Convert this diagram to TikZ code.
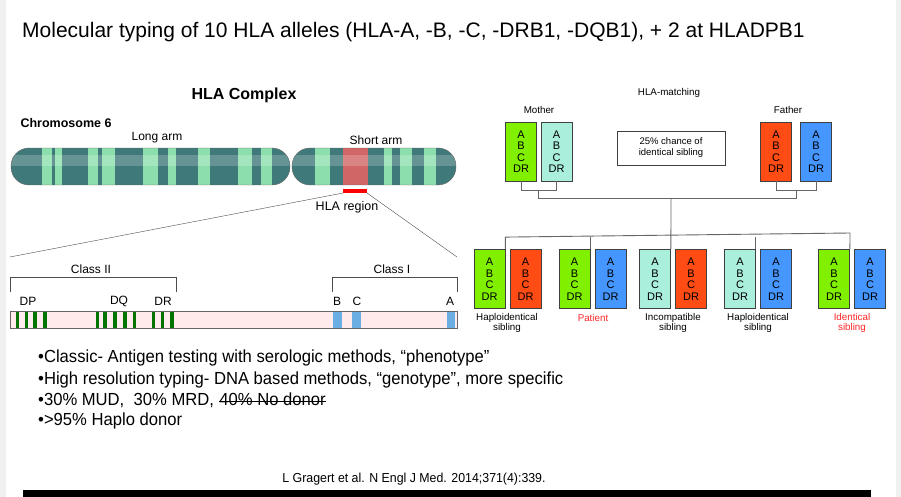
\documentclass[tikz,border=0pt]{standalone}
\usepackage{fontspec}
\setmainfont{Liberation Sans}
\newfontfamily\narrowfont{Liberation Sans}[FakeStretch=0.95]
\begin{document}
\begin{tikzpicture}[x=1pt,y=-1pt,
  lbl/.style={inner sep=0pt,font=\fontsize{12}{13}\selectfont},
  hbox/.style={draw=black!75,line width=0.8pt,minimum width=31pt,minimum height=59pt,inner sep=0pt,align=center,font=\fontsize{11}{11.5}\selectfont},
  conn/.style={draw=black!60,line width=0.9pt},
  gbar/.style={fill=green!45!black},
  bbar/.style={fill=cyan!70!blue!60},
  brk/.style={draw=black!70,line width=0.6pt},
  capt/.style={font=\fontsize{9.8}{10}\selectfont,align=center,inner sep=0pt},
  bul/.style={anchor=west,inner sep=0pt,font=\narrowfont\fontsize{17.5}{19}\selectfont}]
\useasboundingbox (0,0) rectangle (901,497);
\fill[white] (0,0) rectangle (901,497);
\fill[black!6] (0,0) rectangle (6,497);
\fill[black!6] (896,0) rectangle (901,497);
\fill[black] (23,490) rectangle (871,497);
\node[anchor=west,inner sep=0pt,font=\fontsize{21}{24}\selectfont] (title) at (22,32) {Molecular typing of 10 HLA alleles (HLA-A, -B, -C, -DRB1, -DQB1), + 2 at HLADPB1};
% Left panel
\node[font=\bfseries\fontsize{16}{18}\selectfont,inner sep=0pt] (hc) at (244,95) {HLA Complex};
\node[font=\bfseries\fontsize{12.5}{14}\selectfont,inner sep=0pt] (c6) at (66,123) {Chromosome 6};
\node[lbl] (la) at (157,138) {Long arm};
\node[lbl] (sa) at (376,140) {Short arm};
\begin{scope}
\clip[rounded corners=18pt] (11,148) rectangle (290,185);
\fill[teal!60!black!75] (11,148) rectangle (290,185);
\foreach \a/\b in {42/52,55/62,88/98,102/115,143/158,168/176,198/210,238/252,261/272}
  \fill[teal!55!green!45!white] (\a,148) rectangle (\b,185);
\fill[white,opacity=0.2] (11,155) rectangle (290,166);
\end{scope}
\draw[black!60,rounded corners=18pt] (11,148) rectangle (290,185);
\begin{scope}
\clip[rounded corners=18pt] (292,148) rectangle (456,185);
\fill[teal!60!black!75] (292,148) rectangle (456,185);
\foreach \a/\b in {315/330,384/392,400/412,424/436}
  \fill[teal!55!green!45!white] (\a,148) rectangle (\b,185);
\fill[red!70!black!60] (343,148) rectangle (368,185);
\fill[white,opacity=0.2] (292,155) rectangle (456,166);
\end{scope}
\draw[black!60,rounded corners=18pt] (292,148) rectangle (456,185);
\fill[red] (343,189) rectangle (367,193);
\coordinate (hl) at (343,193); \coordinate (hr) at (367,193);
\coordinate (bl) at (10,257); \coordinate (br) at (457,257);
\draw[black!70] (hl) -- (bl); \draw[black!70] (hr) -- (br);
\node[lbl,font=\fontsize{12.5}{13}\selectfont] (hreg) at (347,207) {HLA region};
\draw[brk] (10,292) -- (10,277) -- (176,277) -- (176,292);
\draw[brk] (332,292) -- (332,277) -- (457,277) -- (457,292);
\node[lbl] (c2) at (91,269) {Class II};
\node[lbl] (c1) at (392,269) {Class I};
\node[lbl] (dp) at (28,301) {DP};
\node[lbl] (dq) at (119,301) {DQ};
\node[lbl] (dr) at (163,301) {DR};
\node[lbl] (b) at (337,301) {B};
\node[lbl] (c) at (357,301) {C};
\node[lbl] (a) at (450,301) {A};
\fill[red!8] (10,311) rectangle (457,328);
\foreach \a/\b in {16/19,25/28,33/37,43/47,96/99,103/107,113/117,123/127,133/136,152/155,161/164,170/174}
  \fill[gbar] (\a,311) rectangle (\b,328);
\foreach \a/\b in {333/342,352/361,447/455}
  \fill[bbar] (\a,311) rectangle (\b,328);
\draw[black!60] (10,311) rectangle (457,328);
% bullets
\node[bul] (t1) at (38,358) {\textbullet Classic- Antigen testing with serologic methods, “phenotype”};
\node[bul] (t2) at (38,380) {\textbullet High resolution typing- DNA based methods, “genotype”, more specific};
\node[bul] (t3) at (38,401) {\textbullet 30\% MUD,\ \ 30\% MRD,};
\node[bul,anchor=base west,xshift=5pt] (t3b) at (t3.base east) {40\% No donor};
\draw[black,line width=0.8pt] ([yshift=5pt]t3b.base west) -- ([yshift=5pt]t3b.base east);
\node[bul] (t4) at (38,421) {\textbullet >95\% Haplo donor};
\node[inner sep=0pt,font=\narrowfont\fontsize{13}{14}\selectfont] (cite) at (414,479) {L Gragert et al. N Engl J Med. 2014;371(4):339.};
% Right panel
\node[capt] (hm) at (669,93) {HLA-matching};
\node[capt] (mo) at (539,110) {Mother};
\node[capt] (fa) at (788,110) {Father};
\definecolor{cg}{RGB}{128,240,0}
\definecolor{ct}{RGB}{170,238,220}
\definecolor{cr}{RGB}{255,75,20}
\definecolor{cb}{RGB}{70,150,255}
\newcommand{\abc}{A\\B\\C\\DR}
\node[hbox,fill=cg] (m1) at (521,151.5) {\abc};
\node[hbox,fill=ct] (m2) at (556.5,151.5) {\abc};
\node[hbox,fill=cr] (f1) at (776,151.5) {\abc};
\node[hbox,fill=cb] (f2) at (816,151.5) {\abc};
\node[draw=black!75,line width=0.8pt,minimum width=108pt,minimum height=34pt,align=center,font=\fontsize{9.5}{11}\selectfont,inner sep=0pt] (chance) at (671,148) {25\% chance of\\identical sibling};
\foreach \n/\x/\f in {s1/489.5/cg,s2/525.5/cr,s3/574.5/cg,s4/610.5/cb,s5/655/ct,s6/691/cr,s7/740/ct,s8/776/cb,s9/834/cg,s10/870/cb}
  \node[hbox,fill=\f] (\n) at (\x,279) {\abc};
\draw[conn] (m1.south) -- ++(0,9) -| (m2.south);
\draw[conn] (f1.south) -- ++(0,9) -| (f2.south);
\coordinate (jm) at (538.5,190); \coordinate (jf) at (796,190);
\coordinate (mid) at (671,198);
\draw[conn] (jm) -- (538.5,198) -- (796,198) -- (jf);
\draw[conn] (mid) -- (s5.north east);
\draw[conn] (s1.north east) -- ++(0,-12) -- (850,233) -- (s9.north east);
\draw[conn] (s3.north east) -- ++(0,-12);
\draw[conn] (s7.north east) -- ++(0,-12);
\node[capt] (l1) at (507,323) {Haploidentical\\sibling};
\node[capt,text=red!85] (l2) at (593,318) {Patient};
\node[capt] (l3) at (673,323) {Incompatible\\sibling};
\node[capt] (l4) at (758,323) {Haploidentical\\sibling};
\node[capt,text=red!85] (l5) at (852,323) {Identical\\sibling};
\end{tikzpicture}
\end{document}
